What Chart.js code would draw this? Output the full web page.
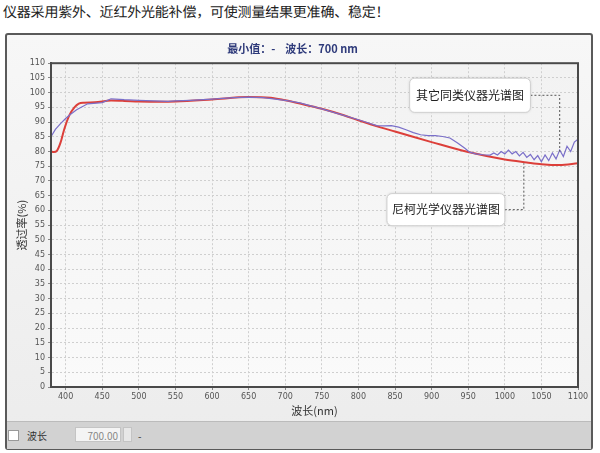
<!DOCTYPE html>
<html lang="zh-CN">
<head>
<meta charset="utf-8">
<script src="https://cdn.jsdelivr.net/npm/chart.js@4/dist/chart.umd.min.js"></script>
<style>
  body { margin: 0; width: 600px; height: 453px; background: #fff; font-family: "Noto Sans CJK SC", "Noto Sans", sans-serif; position: relative; overflow: hidden; }
  #headline { position: absolute; left: 3px; top: 2px; font-size: 14px; color: rgb(34, 34, 34); letter-spacing: -0.2px; white-space: nowrap; font-family: "Noto Sans CJK SC"; text-rendering: geometricPrecision; -webkit-font-smoothing: antialiased; }
  #panel { position: absolute; left: 5px; top: 33px; width: 584px; height: 413px; border: 2px solid #5a5a5a; border-radius: 3px; background: linear-gradient(#f7f7f7, #ececec); }
  #chartBox { position: absolute; left: 0; top: 0; width: 584px; height: 386px; }
  #bottomBar { position: absolute; left: 0; top: 386px; width: 584px; height: 27px; background: #d2d2d2; border-top: 1px solid #bbb; font-size: 10px; color: #333; }
  .chk { position: absolute; left: 1px; top: 8px; width: 9px; height: 9px; background: #fff; border: 1px solid #999; }
  .lbl { position: absolute; left: 20px; top: 6px; }
  .inp { position: absolute; left: 68px; top: 5px; width: 46px; height: 15px; background: #f4f4f4; border: 1px solid #c4c4c4; color: #888; text-align: right; line-height: 15px; padding-right: 2px; box-sizing: border-box; }
  .spin { position: absolute; left: 116px; top: 5px; width: 9px; height: 15px; background: #e8e8e8; border: 1px solid #c4c4c4; box-sizing: border-box; }
  .dash { position: absolute; left: 131px; top: 6px; }
</style>
</head>
<body>
<div id="headline">仪器采用紫外、近红外光能补偿，可使测量结果更准确、稳定！</div>
<div id="panel">
  <div id="chartBox"><canvas id="spectrum" width="584" height="386"></canvas></div>
  <div id="bottomBar">
    <div class="chk"></div>
    <div class="lbl">波长</div>
    <div class="inp">700.00</div>
    <div class="spin"></div>
    <div class="dash">-</div>
  </div>
</div>
<script>
// wavelength (nm) / transmittance (%)
const nikoWavelengths = [380, 384, 388, 393, 398, 405, 412, 418, 425, 440, 462, 480, 500, 530, 550, 600, 650, 680, 700, 720, 750, 780, 800, 830, 850, 900, 950, 1000, 1030, 1050, 1075, 1100];
const nikoValues = [80, 79.8, 80.2, 83, 87.5, 92.3, 95, 96.3, 96.6, 96.7, 97.3, 97.2, 97, 96.9, 97, 97.7, 98.5, 98.3, 97.4, 96.3, 94.5, 92.3, 90.6, 88.2, 86.8, 83.2, 79.8, 77.3, 76.3, 75.7, 75.4, 76];

const otherWavelengths = [380, 386, 393, 400, 405, 415, 430, 450, 462, 480, 500, 520, 540, 550, 570, 600, 630, 650, 670, 700, 720, 750, 780, 800, 815, 825, 835, 845, 855, 865, 875, 885, 895, 905, 915, 925, 935, 945, 952, 960, 970, 980, 985, 990, 995, 1000, 1005, 1010, 1015, 1020, 1025, 1030, 1035, 1040, 1045, 1050, 1055, 1060, 1065, 1070, 1075, 1080, 1085, 1090, 1095, 1100];
const otherValues = [85, 87.5, 89.5, 91.2, 92.3, 94.2, 96.2, 96.6, 97.9, 97.6, 97.4, 97.2, 97, 97.2, 97.4, 97.8, 98.3, 98.5, 98.3, 97.4, 96.5, 94.5, 92.3, 90.8, 89.6, 88.8, 88.7, 88.8, 88.3, 87.4, 86.4, 85.7, 85.4, 85.4, 85.1, 84.6, 83, 81.2, 79.8, 79.2, 78.9, 78.8, 79.5, 78.8, 80, 79.2, 80.5, 79.2, 80, 78.5, 79.7, 78, 79, 77.2, 78.6, 76.5, 78.8, 76.9, 79.5, 77.5, 80.5, 78.3, 81.8, 80, 83.2, 84.2];

const xTicks = [400, 450, 500, 550, 600, 650, 700, 750, 800, 850, 900, 950, 1000, 1050, 1100];

const chartTitle = "最小值：-    波长：700 nm";
const xTitle = "波长(nm)";
const yTitle = "透过率(%)";
const nikoLabel = "尼柯光学仪器光谱图";
const otherLabel = "其它同类仪器光谱图";

function toPoints(xs, ys) {
  return xs.map(function (x, i) { return { x: x, y: ys[i] }; });
}

// callout boxes, anchored in data units
const callouts = [
  { text: otherLabel, box: [870, 1035, 104.9, 93.3], path: [[1075, null], [1075, 80]] },
  { text: nikoLabel, box: [839, 1000, 65.7, 54.8], path: [[1026, null], [1026, 76]] }
];

const frameAndCallouts = {
  id: "frameAndCallouts",
  beforeDraw: function (chart) {
    const a = chart.chartArea;
    const ctx = chart.ctx;
    ctx.save();
    const g = ctx.createLinearGradient(0, a.top, 0, a.bottom);
    g.addColorStop(0, "#f2f2f2");
    g.addColorStop(1, "#fafafa");
    ctx.fillStyle = g;
    ctx.fillRect(a.left, a.top, a.right - a.left, a.bottom - a.top);
    ctx.restore();
  },
  afterDraw: function (chart) {
    const a = chart.chartArea;
    const ctx = chart.ctx;
    const xs = chart.scales.x;
    const ys = chart.scales.y;
    ctx.save();
    ctx.strokeStyle = "#4a4a4a";
    ctx.lineWidth = 2;
    ctx.strokeRect(a.left, a.top, a.right - a.left, a.bottom - a.top);

    callouts.forEach(function (c) {
      const x1 = xs.getPixelForValue(c.box[0]);
      const x2 = xs.getPixelForValue(c.box[1]);
      const y1 = ys.getPixelForValue(c.box[2]);
      const y2 = ys.getPixelForValue(c.box[3]);
      const midY = (y1 + y2) / 2;

      ctx.setLineDash([2, 2]);
      ctx.strokeStyle = "#555";
      ctx.lineWidth = 1;
      ctx.beginPath();
      ctx.moveTo(x2, midY);
      const px = xs.getPixelForValue(c.path[0][0]);
      ctx.lineTo(px, midY);
      ctx.lineTo(px, ys.getPixelForValue(c.path[1][1]));
      ctx.stroke();
      ctx.setLineDash([]);

      ctx.shadowColor = "rgba(0,0,0,0.18)";
      ctx.shadowBlur = 3;
      ctx.fillStyle = "#fff";
      ctx.strokeStyle = "#d0d0d0";
      ctx.beginPath();
      ctx.roundRect(x1, y1, x2 - x1, y2 - y1, 5);
      ctx.fill();
      ctx.shadowColor = "transparent";
      ctx.stroke();

      ctx.fillStyle = "#222";
      ctx.font = "12px 'Noto Sans CJK SC'";
      ctx.textAlign = "center";
      ctx.textBaseline = "middle";
      ctx.fillText(c.text, (x1 + x2) / 2, midY);
    });
    ctx.restore();
  }
};

const ctx = document.getElementById("spectrum").getContext("2d");
new Chart(ctx, {
  type: "line",
  data: {
    datasets: [
      { label: otherLabel, data: toPoints(otherWavelengths, otherValues), borderColor: "#7a6fc9", borderWidth: 1.2, pointRadius: 0, tension: 0 },
      { label: nikoLabel, data: toPoints(nikoWavelengths, nikoValues), borderColor: "#dc3f3a", borderWidth: 2, pointRadius: 0, tension: 0.4, cubicInterpolationMode: "monotone" }
    ]
  },
  options: {
    responsive: false,
    animation: false,
    layout: { padding: { right: 13, top: 0 } },
    plugins: {
      legend: { display: false },
      tooltip: { enabled: false },
      title: {
        display: true,
        text: chartTitle,
        color: "#2e3a7a",
        font: { family: "'Noto Sans CJK SC'", size: 11, weight: "bold" },
        padding: { top: 7, bottom: 8 }
      }
    },
    scales: {
      x: {
        type: "linear",
        min: 380,
        max: 1100,
        afterBuildTicks: function (scale) { scale.ticks = xTicks.map(function (v) { return { value: v }; }); },
        afterFit: function (scale) { scale.height = 34; },
        ticks: { color: "#555", font: { family: "'DejaVu Sans'", size: 8 }, maxRotation: 0, padding: 2, callback: function (v) { return String(v); } },
        grid: { color: "#cfcfcf", tickLength: 3, tickColor: "#888" },
        border: { color: "#4a4a4a", width: 2, dash: [2, 2] },
        title: { display: true, text: xTitle, color: "#333", font: { family: "'Noto Sans CJK SC'", size: 11 }, padding: { top: 0 } }
      },
      y: {
        min: 0,
        max: 110,
        afterFit: function (scale) { scale.width = 44; },
        ticks: { stepSize: 5, color: "#555", font: { family: "'DejaVu Sans'", size: 8 }, padding: 3 },
        grid: { color: "#cfcfcf", tickLength: 3, tickColor: "#888" },
        border: { color: "#4a4a4a", width: 2, dash: [2, 2] },
        title: { display: true, text: yTitle, color: "#333", font: { family: "'Noto Sans CJK SC'", size: 11 }, padding: { top: 8, bottom: 0 } }
      }
    }
  },
  plugins: [frameAndCallouts]
});
</script>
</body>
</html>
